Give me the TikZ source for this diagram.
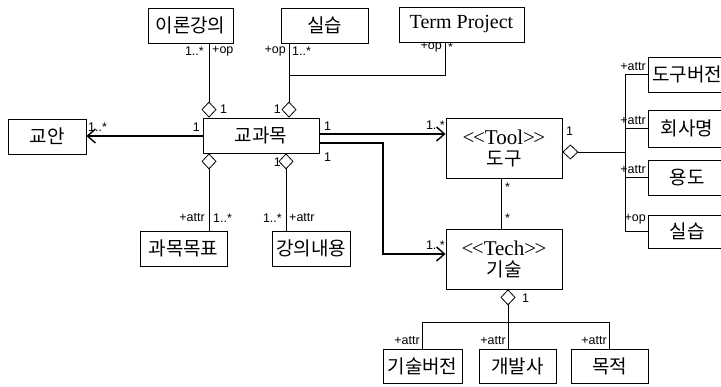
\documentclass[tikz,border=0pt]{standalone}
\usepackage{fontspec}
\setmainfont{Liberation Serif}
\newfontfamily\kr{Noto Sans CJK KR}
\newfontfamily\lab{Liberation Sans}
\usetikzlibrary{arrows.meta}
\tikzset{
  box/.style={draw, line width=0.8pt, inner sep=0pt, font=\kr\fontsize{19}{22}\selectfont},
  lbl/.style={font=\lab\fontsize{12.5}{14}\selectfont, inner sep=0pt},
  ln/.style={line width=0.8pt},
  assoc/.style={line width=1.6pt, -{Straight Barb[length=8pt,width=14pt,line width=1.4pt]}},
  dia/.style={{Diamond[open,length=16pt,width=15pt,line width=0.8pt]}-},
  diaend/.style={-{Diamond[open,length=16pt,width=15pt,line width=0.8pt]}}
}
\begin{document}
\begin{tikzpicture}[x=1pt,y=-1pt]
\useasboundingbox (0,0) rectangle (721,387);
\clip (0,0) rectangle (721,387);
% nodes
\node[box, minimum width=85, minimum height=35] (lec) at (190.5,25.5) {이론강의};
\node[box, minimum width=87, minimum height=35] (pracA) at (324.5,25.5) {실습};
\node[box, font=\fontsize{20}{22}\selectfont, minimum width=125, minimum height=35] (tp) at (461.5,24.5) {Term Project};
\node[box, minimum width=78, minimum height=35] (plan) at (47,136.5) {교안};
\node[box, minimum width=116, minimum height=35] (subj) at (261,135.5) {교과목};
\node[box, minimum width=87, minimum height=35] (goal) at (183.5,248.5) {과목목표};
\node[box, minimum width=78, minimum height=35] (cont) at (311,248.5) {강의내용};
\node[box, minimum width=116, minimum height=60, align=center] (tool) at (504,148)
  {{\rmfamily\fontsize{21}{30}\selectfont <\kern-1.5pt<Tool>\kern-1.5pt>}\\[-1pt]도구};
\node[box, minimum width=116, minimum height=60, align=center] (tech) at (504,259)
  {{\rmfamily\fontsize{21}{30}\selectfont <\kern-1.5pt<Tech>\kern-1.5pt>}\\[-1pt]기술};
\node[box, minimum width=79, minimum height=34] (tv) at (422.5,366) {기술버전};
\node[box, minimum width=77, minimum height=34] (dev) at (517.5,366) {개발사};
\node[box, minimum width=77, minimum height=34] (purp) at (609.5,366) {목적};
\node[box, minimum width=78, minimum height=35] (tver) at (687,74.5) {도구버전};
\node[box, minimum width=78, minimum height=37] (comp) at (687,128.5) {회사명};
\node[box, minimum width=78, minimum height=35] (use) at (687,177.5) {용도};
\node[box, minimum width=78, minimum height=33] (pracB) at (687,231.5) {실습};
% helper coordinates
\coordinate (xa) at (209,0);
\coordinate (xb) at (289,0);
\coordinate (xc) at (286,0);
\coordinate (xt) at (445,0);
\coordinate (xr) at (383,0);
\coordinate (xd) at (501,0);
\coordinate (xe) at (508,0);
\coordinate (xbus) at (625,0);
\coordinate (yb) at (0,75);
\coordinate (yh) at (0,322);
\coordinate (ydia) at (0,152);
\coordinate (ya1) at (0,134);
\coordinate (ya2) at (0,143);
\coordinate (ya3) at (0,254);
\coordinate (ypl) at (0,136);
% connectors
\draw[ln, diaend] (lec.south -| xa) -- (subj.north -| xa);
\draw[ln, diaend] (pracA.south -| xb) -- (subj.north -| xb);
\draw[ln] (xb |- yb) -- (xt |- yb) -- (tp.south -| xt);
\draw[assoc] (subj.west |- ypl) -- (plan.east |- ypl);
\draw[assoc] (subj.east |- ya1) -- (tool.west |- ya1);
\draw[assoc] (subj.east |- ya2) -- (xr |- ya2) -- (xr |- ya3) -- (tech.west |- ya3);
\draw[ln] (tool.south -| xd) -- (tech.north -| xd);
\draw[ln, dia] (subj.south -| xa) -- (goal.north -| xa);
\draw[ln, dia] (subj.south -| xc) -- (cont.north -| xc);
\draw[ln, dia] (tool.east |- ydia) -- (xbus |- ydia);
\draw[ln] (tver.west) -- (xbus |- tver.west) -- (xbus |- pracB.west) -- (pracB.west);
\draw[ln] (xbus |- comp.west) -- (comp.west);
\draw[ln] (xbus |- use.west) -- (use.west);
\draw[ln, dia] (tech.south -| xe) -- (xe |- yh);
\draw[ln] (tv.north) -- (tv.north |- yh) -- (purp.north |- yh) -- (purp.north);
\draw[ln] (dev.north -| xe) -- (xe |- yh);
% labels
\node[lbl, anchor=east] (l1) at (204,51) {1..*};
\node[lbl, anchor=west] (l2) at (212,51) {+op};
\node[lbl, anchor=west] (l3) at (220,109) {1};
\node[lbl, anchor=east] (l4) at (286,51) {+op};
\node[lbl, anchor=west] (l5) at (292,51) {1..*};
\node[lbl, anchor=east] (l6) at (281,109) {1};
\node[lbl, anchor=east] (l7) at (442,47) {+op};
\node[lbl, anchor=west] (l8) at (448,47) {*};
\node[lbl, anchor=west] (l9) at (88,127) {1..*};
\node[lbl, anchor=east] (l10) at (200,127) {1};
\node[lbl, anchor=west] (l11) at (324,126) {1};
\node[lbl, anchor=east] (l12) at (445,125) {1..*};
\node[lbl, anchor=west] (l13) at (324,157) {1};
\node[lbl, anchor=east] (l14) at (445,245) {1..*};
\node[lbl, anchor=west] (l15) at (505,187) {*};
\node[lbl, anchor=west] (l16) at (505,218) {*};
\node[lbl, anchor=east] (l17) at (205,218) {+attr};
\node[lbl, anchor=west] (l18) at (213,218) {1..*};
\node[lbl, anchor=east] (l19) at (281,162) {1};
\node[lbl, anchor=east] (l20) at (282,218) {1..*};
\node[lbl, anchor=west] (l21) at (289,218) {+attr};
\node[lbl, anchor=west] (l22) at (566,131) {1};
\node[lbl, anchor=east] (l23) at (646,67) {+attr};
\node[lbl, anchor=east] (l24) at (646,121) {+attr};
\node[lbl, anchor=east] (l25) at (646,170) {+attr};
\node[lbl, anchor=east] (l26) at (646,219) {+op};
\node[lbl, anchor=west] (l27) at (522,298) {1};
\node[lbl, anchor=east] (l28) at (420,341) {+attr};
\node[lbl, anchor=east] (l29) at (506,341) {+attr};
\node[lbl, anchor=east] (l30) at (607,341) {+attr};
\end{tikzpicture}
\end{document}
